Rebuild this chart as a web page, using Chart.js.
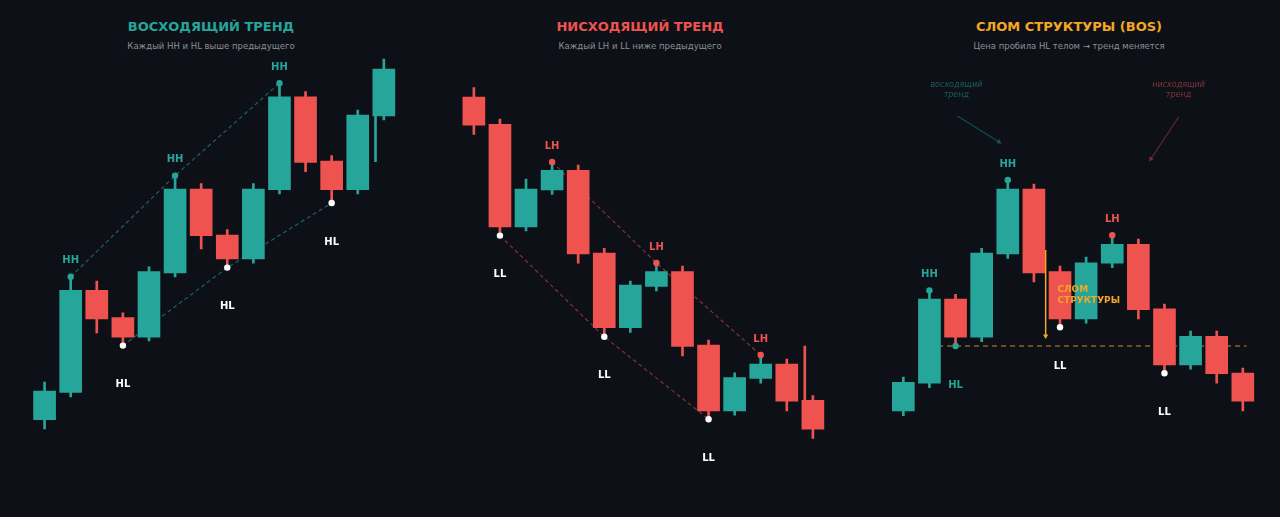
<!DOCTYPE html>
<html lang="ru">
<head>
<meta charset="UTF-8">
<title>Структура рынка: HH / HL / LH / LL / BOS</title>
<script src="https://cdn.jsdelivr.net/npm/chart.js@4"></script>
<style>
  body { margin: 0; background: #0d1117; width: 1280px; height: 517px; overflow: hidden; position: relative; font-family: "DejaVu Sans", sans-serif; }
  canvas { position: absolute; top: 0; }
  .title { position: absolute; width: 400px; text-align: center; font-weight: bold; font-size: 13px; top: 19px; line-height: 16px; }
  .sub { position: absolute; width: 400px; text-align: center; font-size: 8.5px; color: #8b8f96; top: 40px; line-height: 12px; }
</style>
</head>
<body>

<div class="title" style="left:11px; color:#26a69a;">ВОСХОДЯЩИЙ ТРЕНД</div>
<div class="sub" style="left:11px;">Каждый HH и HL выше предыдущего</div>
<div class="title" style="left:440px; color:#ef5350;">НИСХОДЯЩИЙ ТРЕНД</div>
<div class="sub" style="left:440px;">Каждый LH и LL ниже предыдущего</div>
<div class="title" style="left:869px; color:#f5a623;">СЛОМ СТРУКТУРЫ (BOS)</div>
<div class="sub" style="left:869px;">Цена пробила HL телом → тренд меняется</div>

<canvas id="up" width="427" height="517" style="left:0px"></canvas>
<canvas id="down" width="427" height="517" style="left:429px"></canvas>
<canvas id="bos" width="427" height="517" style="left:859px"></canvas>

<script>
// --- данные: восходящий тренд ---
const upOpen  = [15.1, 21.9, 47.4, 40.6, 35.7, 51.8, 72.75, 61.25, 55.3, 72.6, 95.8, 79.7, 72.6, 91];
const upHigh  = [24.5, 50.8, 49.75, 41.8, 53.3, 76.1, 74.1, 62.6, 74.1, 99.2, 97.1, 81.1, 92.5, 105.2];
const upLow   = [12.75, 20.8, 36.8, 33.6, 34.75, 50.8, 57.75, 53.1, 54.2, 71.5, 77.1, 69.25, 71.5, 90];
const upClose = [22.2, 47.4, 40.3, 35.7, 52.1, 72.75, 61.1, 55.3, 72.75, 95.8, 79.4, 72.6, 91.25, 102.75];
const upHH = [1, 5, 9];
const upHL = [3, 7, 11];
const upStray = [{ x: 12.68, y: [79.6, 91] }];

// --- данные: нисходящий тренд ---
const dnOpen  = [95.75, 88.9, 63.3, 72.5, 77.4, 56.7, 38.1, 48.4, 52.1, 33.7, 17.3, 25.4, 29, 19.9];
const dnHigh  = [98.1, 90.2, 75.25, 79.5, 78.7, 57.9, 49.75, 54.25, 53.5, 35, 26.8, 31.25, 30.25, 21.1];
const dnLow   = [86.4, 61.1, 62.25, 71.4, 54.2, 35.8, 36.9, 47.3, 31, 15.2, 16.2, 24.2, 17.25, 10.4];
const dnClose = [88.7, 63.3, 72.75, 77.4, 56.5, 38.1, 48.7, 52.1, 33.4, 17.3, 25.6, 29, 19.7, 12.7];
const dnLH = [3, 7, 11];
const dnLL = [1, 5, 9];
const dnStray = [{ x: 12.69, y: [20, 33.5] }];

// --- данные: слом структуры ---
const bosOpen  = [17.25, 24.2, 45.2, 35.7, 56.5, 72.75, 52.1, 40.3, 54.2, 58.9, 42.8, 28.8, 35.9, 26.75];
const bosHigh  = [25.7, 47.4, 46.4, 57.9, 75, 74, 53.5, 55.7, 61.2, 60.2, 44, 37.25, 37.25, 28];
const bosLow   = [16.1, 23.1, 33.5, 34.6, 55.4, 49.5, 38.2, 39.2, 53.1, 40.3, 26.7, 27.7, 24.2, 17.25];
const bosClose = [24.4, 45.2, 35.7, 56.7, 72.75, 51.8, 40.3, 54.3, 58.9, 42.6, 28.8, 35.9, 26.6, 19.7];
const bosHH = [1, 4];
const bosHL = [2];
const bosLH = [8];
const bosLL = [6, 10];
const bosLevel = 33.5;          // уровень HL, который пробили
const bosArrow = [57.5, 36];    // стрелка "слом структуры"

const TEAL = '#26a69a', RED = '#ef5350', GOLD = '#f5a623', WHITE = '#ffffff';
const LBL = 'bold 10px "DejaVu Sans"';

function candles(open, high, low, close) {
  const colors = open.map((o, i) => close[i] >= o ? TEAL : RED);
  return [
    { type: 'bar', data: open.map((o, i) => ({ x: i, y: [low[i], high[i]] })), backgroundColor: colors,
      barThickness: 2, grouped: false, order: 4 },
    { type: 'bar', data: open.map((o, i) => ({ x: i, y: [o, close[i]] })), backgroundColor: colors,
      barThickness: 22, grouped: false, order: 3 }
  ];
}

function dashed(points, color, width, dash) {
  return { type: 'line', data: points, borderColor: color, borderWidth: width, borderDash: dash,
    pointRadius: 0, fill: false, order: 6 };
}

function dots(points, color) {
  return { type: 'line', data: points, showLine: false, pointRadius: 3.2, pointBorderWidth: 0,
    pointBackgroundColor: color, order: 1 };
}

function arrow(points, color, width, rot) {
  return { type: 'line', data: points, borderColor: color, borderWidth: width, fill: false, order: 0,
    pointStyle: 'triangle', pointRadius: [0, 3], pointRotation: rot,
    pointBackgroundColor: color, pointBorderColor: color, pointBorderWidth: 0 };
}

const pts = (idx, arr) => idx.map(i => ({ x: i, y: arr[i] }));
const above = (idx, arr, text, color) => idx.map(i => ({ x: i, y: arr[i], dy: -16, text, color }));
const below = (idx, arr, text, color) => idx.map(i => ({ x: i, y: arr[i], dy: 39, text, color }));

// подписи рисуем через шкалы графика
function textPlugin(items) {
  return {
    id: 'textMarks',
    afterDatasetsDraw(chart) {
      const { ctx, scales: { x, y } } = chart;
      ctx.save();
      ctx.textBaseline = 'middle';
      items.forEach(it => {
        ctx.font = it.f || LBL;
        ctx.fillStyle = it.color;
        ctx.textAlign = it.align || 'center';
        const px = x.getPixelForValue(it.x);
        const py = y.getPixelForValue(it.y) + (it.dy || 0);
        it.text.split('\n').forEach((line, k) => ctx.fillText(line, px, py + k * (it.lh || 11)));
      });
      ctx.restore();
    }
  };
}

function makeChart(id, padLeft, datasets, items) {
  new Chart(document.getElementById(id), {
    type: 'bar',
    data: { datasets },
    options: {
      responsive: false,
      animation: false,
      events: [],
      layout: { padding: { left: padLeft, right: 427 - padLeft - 420.8, top: 40, bottom: 37 } },
      plugins: { legend: { display: false }, tooltip: { enabled: false } },
      scales: {
        x: { type: 'linear', min: -1.5, max: 14.5, offset: false, display: false },
        y: { type: 'linear', min: 0, max: 110, display: false }
      }
    },
    plugins: [textPlugin(items)]
  });
}

// восходящий тренд
makeChart('up', 5.45, [
  dashed(pts(upHH, upHigh), 'rgba(38,166,154,0.55)', 1.2, [4, 3]),
  dashed(pts(upHL, upLow), 'rgba(38,166,154,0.55)', 1.2, [4, 3]),
  ...candles(upOpen, upHigh, upLow, upClose),
  { type: 'bar', data: upStray, backgroundColor: TEAL, barThickness: 2, grouped: false, order: 4 },
  dots(pts(upHH, upHigh), TEAL),
  dots(pts(upHL, upLow), WHITE)
], [
  ...above(upHH, upHigh, 'HH', TEAL),
  ...below(upHL, upLow, 'HL', WHITE)
]);

// нисходящий тренд
makeChart('down', 5.75, [
  dashed(pts(dnLH, dnHigh), 'rgba(239,83,80,0.5)', 1.2, [4, 3]),
  dashed(pts(dnLL, dnLow), 'rgba(239,83,80,0.5)', 1.2, [4, 3]),
  ...candles(dnOpen, dnHigh, dnLow, dnClose),
  { type: 'bar', data: dnStray, backgroundColor: RED, barThickness: 2, grouped: false, order: 4 },
  dots(pts(dnLH, dnHigh), RED),
  dots(pts(dnLL, dnLow), WHITE)
], [
  ...above(dnLH, dnHigh, 'LH', RED),
  ...below(dnLL, dnLow, 'LL', WHITE)
]);

// слом структуры
makeChart('bos', 5.15, [
  dashed([{ x: 1.33, y: bosLevel }, { x: 13.14, y: bosLevel }], 'rgba(245,166,35,0.55)', 1.5, [5, 4]),
  ...candles(bosOpen, bosHigh, bosLow, bosClose),
  dots(pts(bosHH, bosHigh), TEAL),
  dots(pts(bosHL, bosLow), TEAL),
  dots(pts(bosLH, bosHigh), RED),
  dots(pts(bosLL, bosLow), WHITE),
  arrow([{ x: 5.45, y: bosArrow[0] }, { x: 5.45, y: bosArrow[1] }], GOLD, 1.5, 180),
  arrow([{ x: 2.07, y: 91 }, { x: 3.67, y: 84.5 }], 'rgba(38,166,154,0.4)', 1.1, 122),
  arrow([{ x: 10.54, y: 90.75 }, { x: 9.48, y: 80.25 }], 'rgba(239,83,80,0.4)', 1.1, 214)
], [
  ...above(bosHH, bosHigh, 'HH', TEAL),
  ...below(bosHL, bosLow, 'HL', TEAL),
  ...above(bosLH, bosHigh, 'LH', RED),
  ...below(bosLL, bosLow, 'LL', WHITE),
  { x: 5.9, y: 47.7, text: 'СЛОМ\nСТРУКТУРЫ', color: GOLD, align: 'left', f: 'bold 9px "DejaVu Sans"', lh: 11 },
  { x: 2.03, y: 98.75, text: 'восходящий\nтренд', color: 'rgba(38,166,154,0.5)', f: 'italic 8px "DejaVu Sans"', lh: 10 },
  { x: 10.54, y: 98.75, text: 'нисходящий\nтренд', color: 'rgba(239,83,80,0.5)', f: 'italic 8px "DejaVu Sans"', lh: 10 }
]);
</script>
</body>
</html>
